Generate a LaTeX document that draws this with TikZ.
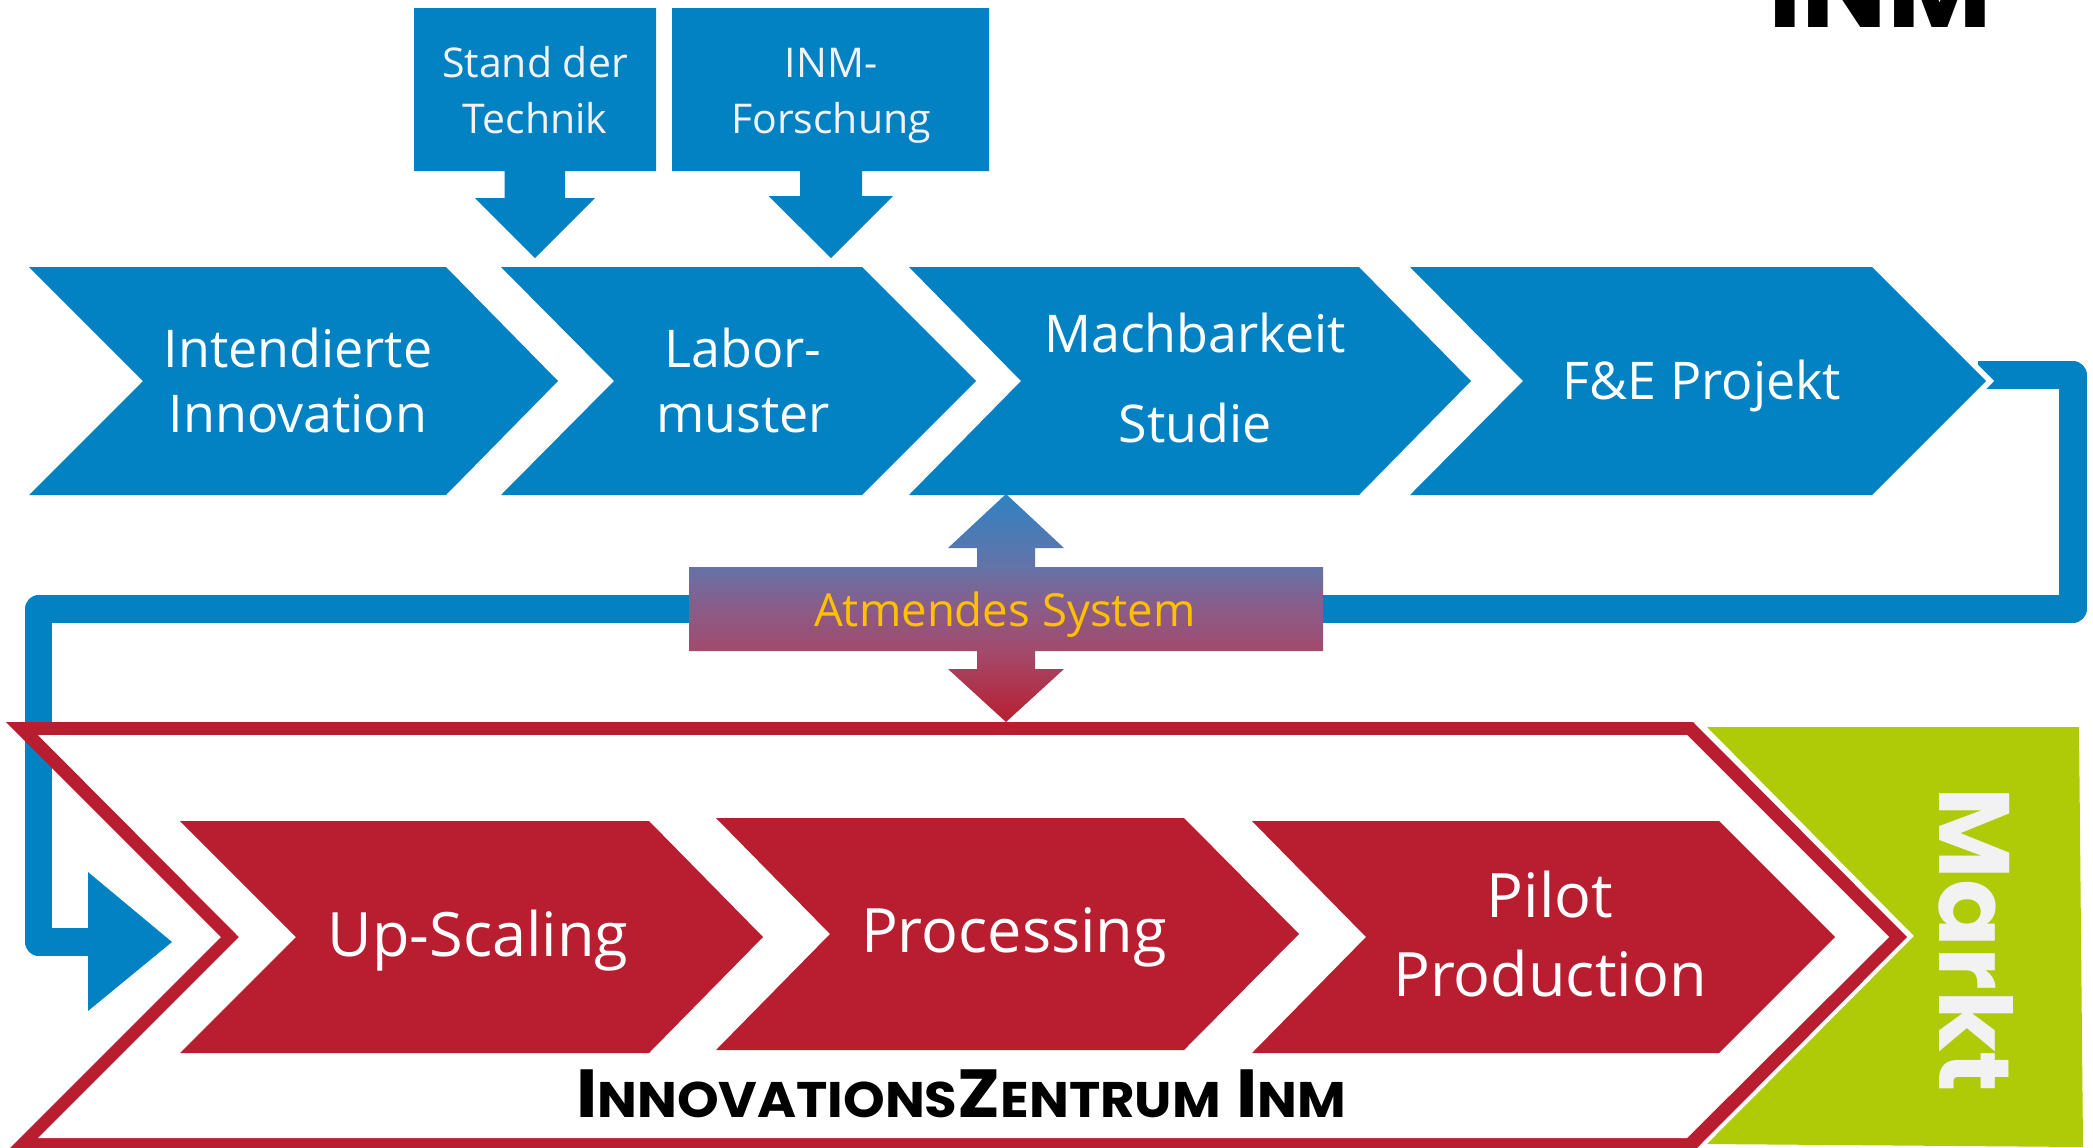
\documentclass[tikz,border=0pt]{standalone}
\usepackage{fontspec}
\setmainfont{Open Sans}
\newfontfamily\futura{Poppins}[BoldFont={Poppins Bold}]
\definecolor{inmblue}{HTML}{0281C3}
\definecolor{inmred}{HTML}{B91E30}
\definecolor{inmgreen}{HTML}{AFCB08}
\definecolor{gold}{HTML}{FFC000}
\definecolor{gradA}{HTML}{2F82C2}
\definecolor{gradB}{HTML}{6573A8}
\definecolor{gradC}{HTML}{8A5C88}
\definecolor{gradD}{HTML}{A34A6C}
\pgfdeclareverticalshading{breathe}{100bp}{color(0bp)=(inmred); color(25bp)=(inmred); color(40.5bp)=(gradD); color(50bp)=(gradC); color(59bp)=(gradB); color(75bp)=(gradA); color(100bp)=(gradA)}
\tikzset{
  blueshape/.style={fill=inmblue,draw=none},
  redshape/.style={fill=inmred,draw=none},
  bluetext/.style={text=white,align=center,inner sep=0pt,font=\fontsize{26}{32.5}\selectfont},
  redtext/.style={text=white,align=center,inner sep=0pt,font=\fontsize{30.6}{39.5}\selectfont},
  toptext/.style={text=white!95!black,align=center,inner sep=0pt,font=\fontsize{20.5}{28}\selectfont},
  flowline/.style={draw=inmblue,line width=13.75pt,line join=round,line cap=butt},
}
\newcommand{\zi}[1]{{\fontsize{34}{34}\selectfont #1}}
\newcommand{\zs}[1]{{\fontsize{25}{34}\selectfont #1}}
\begin{document}
\begin{tikzpicture}[x=0.5pt,y=-0.5pt]
\useasboundingbox (0,0) rectangle (2093,1147);
\clip (0,0) rectangle (2093,1147);
% logo
\node[anchor=base,inner sep=0pt,text=black] (logo) at (1880,27) {\futura\bfseries\fontsize{57}{57}\selectfont INM};
% connector coordinates
\coordinate (fetip) at (1978,375);
\coordinate (ne) at (2073,375);
\coordinate (se) at (2073,609);
\coordinate (sw) at (38.5,609);
\coordinate (ws) at (38.5,942);
\coordinate (arrowin) at (90,942);
% flow line
\draw[flowline] (fetip) -- (ne) -- (se) -- (sw) -- (ws) -- (arrowin);
\fill[white] (1972,359) -- (1994,381) -- (1972,403) -- (1950,381) -- cycle;
\fill[blueshape] (88,872) -- (172,942) -- (88,1011) -- cycle;
% top boxes
\fill[blueshape] (414,8) -- (656,8) -- (656,171) -- (565,171) -- (565,198) -- (595,198) -- (535,258) -- (475,198) -- (504.5,198) -- (504.5,171) -- (414,171) -- cycle;
\node[toptext] (stand) at (535,90) {Stand der\\Technik};
\fill[blueshape] (672,8) -- (989,8) -- (989,171) -- (862,171) -- (862,196) -- (893,196) -- (831,258) -- (768.5,196) -- (800,196) -- (800,171) -- (672,171) -- cycle;
\node[toptext] (inmf) at (831,96) {INM-\\Forschung};
% blue chevrons
\fill[blueshape] (29,267) -- (446,267) -- (558,381) -- (446,495) -- (29,495) -- (143,381) -- cycle;
\node[bluetext] (c1) at (298,380) {Intendierte\\Innovation};
\fill[blueshape] (501,267) -- (862,267) -- (976,381) -- (862,495) -- (501,495) -- (614,381) -- cycle;
\node[bluetext] (c2) at (743,380) {Labor-\\muster};
\fill[blueshape] (909,267) -- (1359,267) -- (1471,381) -- (1359,495) -- (909,495) -- (1021,381) -- cycle;
\node[bluetext,font=\fontsize{26}{45}\selectfont] (c3) at (1195,378) {Machbarkeit\\Studie};
\fill[blueshape] (1410,267) -- (1872,267) -- (1986,381) -- (1872,495) -- (1410,495) -- (1523,381) -- cycle;
\node[bluetext] (c4) at (1702,386) {F\&E Projekt};
% green market
\fill[inmgreen] (1707,727) -- (2079,727) -- (2083,1147) -- (1707,1144) -- (1914,936) -- cycle;
\node[anchor=base,rotate=-90,inner sep=0pt,text=white!95!black] (markt) at (1939,940) {\futura\bfseries\fontsize{50}{50}\selectfont Markt};
% outer red chevron
\fill[inmred] (6,722) -- (1693,722) -- (1907,937) -- (1693,1152) -- (6,1152) -- (221,937) -- cycle;
\fill[white] (38,735) -- (1687,735) -- (1889,937) -- (1687,1138) -- (38,1138) -- (239,937) -- cycle;
% red chevrons
\fill[redshape] (180,821) -- (649,821) -- (763,937) -- (649,1053) -- (180,1053) -- (296,937) -- cycle;
\node[redtext] (r1) at (478,941) {Up-Scaling};
\fill[redshape] (716,818) -- (1184,818) -- (1299,934) -- (1184,1050) -- (716,1050) -- (830,934) -- cycle;
\node[redtext] (r2) at (1014,937) {Processing};
\fill[redshape] (1252,821) -- (1719,821) -- (1835,937) -- (1719,1053) -- (1252,1053) -- (1366,937) -- cycle;
\node[redtext] (r3) at (1550,934) {Pilot\\Production};
% breathing system
\shade[shading=breathe,draw=none] (1006,494) -- (1064,548) -- (1035,548) -- (1035,567) -- (1323,567) -- (1323,651) -- (1035,651) -- (1035,669) -- (1064,669) -- (1006,722) -- (948,669) -- (977,669) -- (977,651) -- (689,651) -- (689,567) -- (977,567) -- (977,548) -- (948,548) -- cycle;
\node[text=gold,inner sep=0pt,font=\fontsize{22.8}{28}\selectfont] (atm) at (1005,615) {Atmendes System};
% title
\node[anchor=base,inner sep=0pt,text=black] (zentrum) at (961,1117) {\scalebox{1.06}[1]{\futura\bfseries\zi{I}\zs{NNOVATIONS}\zi{Z}\zs{ENTRUM}\zi{ I}\zs{NM}}};
\end{tikzpicture}
\end{document}
